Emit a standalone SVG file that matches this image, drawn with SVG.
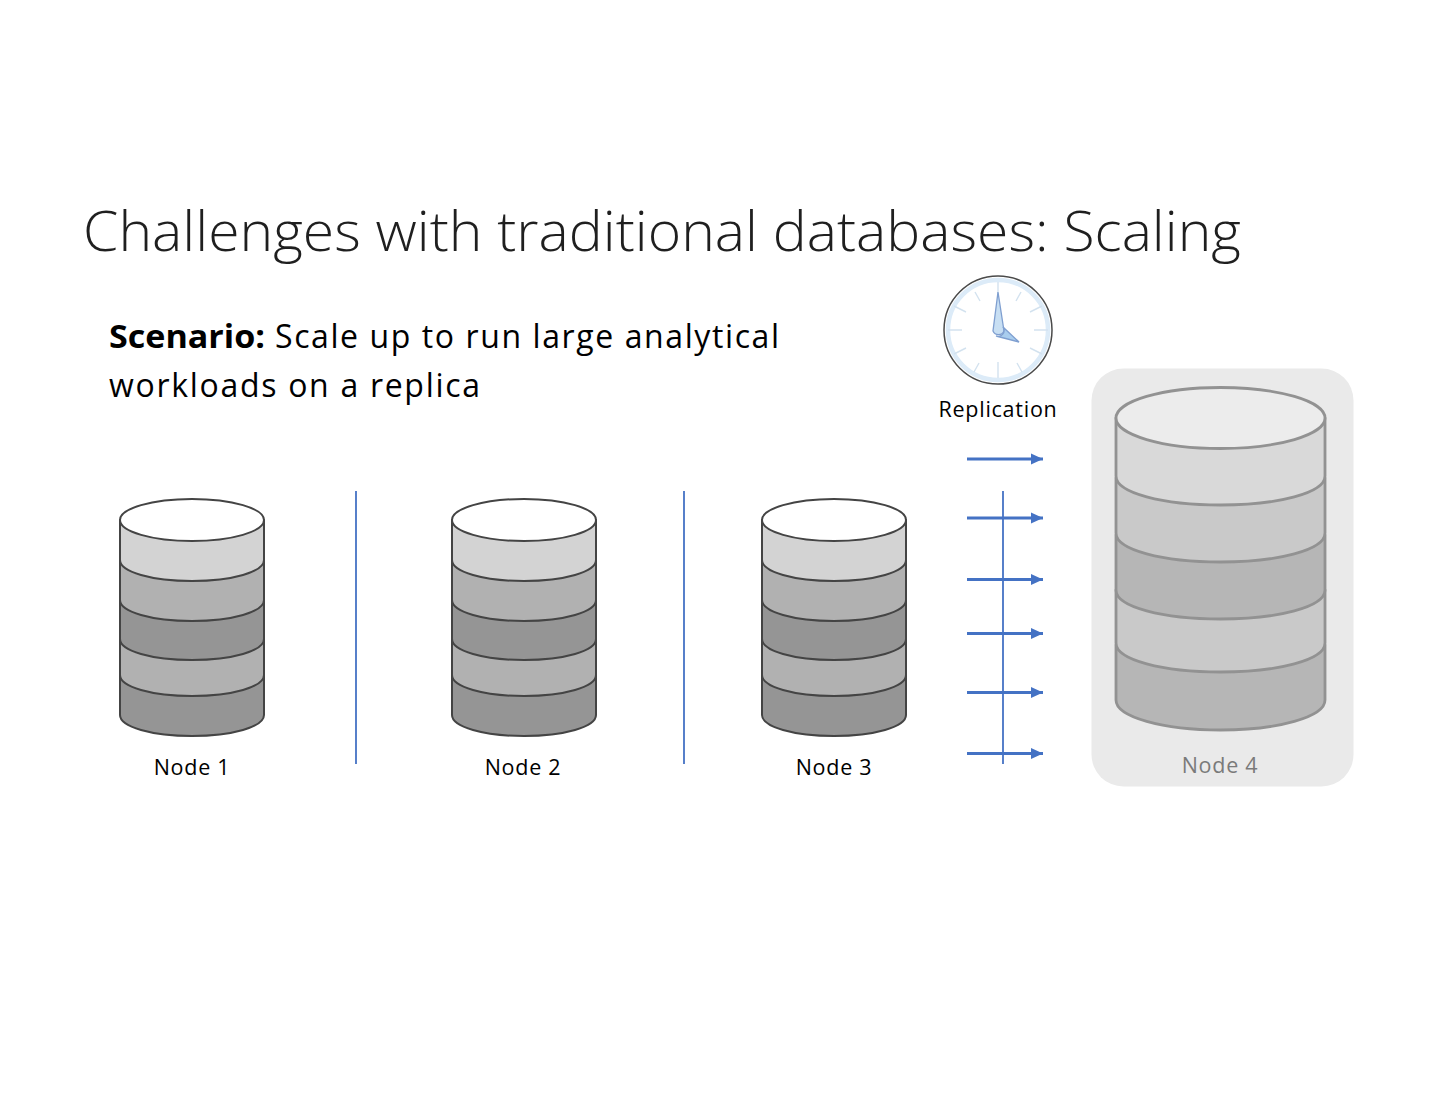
<svg xmlns="http://www.w3.org/2000/svg" width="1440" height="1113" viewBox="0 0 1440 1113">
<style>
.sans{font-family:"Open Sans","Noto Sans","Liberation Sans",sans-serif;fill:#000}
.lab{font-size:21.500px;text-anchor:middle;letter-spacing:.75px}
.body{font-size:32px}
.b{stroke:#444;stroke-width:2;stroke-linejoin:round}
.c1{fill:#d3d3d3}.c2{fill:#b1b1b1}.c3{fill:#959595}
.v{stroke:#4472c4;stroke-width:1.8;fill:none}
.a{stroke:#4472c4;stroke-width:3;fill:none;marker-end:url(#ah)}
.tick{stroke:#d3e2ef;stroke-width:1.4;fill:none}
</style>
<defs>
<marker id="ah" markerUnits="userSpaceOnUse" markerWidth="14" markerHeight="14" refX="12" refY="7" orient="auto"><path d="M0 1.500L12 7L0 12.500Z" fill="#4472c4"/></marker>
<g id="cyl">
<path class="b c3" d="M0 640V695C0 707 32 716 72 716S144 707 144 695V640Z"/>
<path class="b c2" d="M0 600V655C0 667 32 676 72 676S144 667 144 655V600Z"/>
<path class="b c3" d="M0 560V619C0 631 32 640 72 640S144 631 144 619V560Z"/>
<path class="b c2" d="M0 520V580C0 592 32 601 72 601S144 592 144 580V520Z"/>
<path class="b c1" d="M0 500V540C0 552 32 561 72 561S144 552 144 540V500Z"/>
<ellipse class="b" cx="72" cy="500" rx="72" ry="21" fill="#fff"/>
</g>
</defs>
<text x="83" y="251" font-size="56" font-weight="300" class="sans" style="fill:#1f1f1f" textLength="1158" lengthAdjust="spacingAndGlyphs">Challenges with traditional databases: Scaling</text>
<text class="sans body" font-weight="700" x="109" y="348" textLength="156" lengthAdjust="spacingAndGlyphs">Scenario:</text>
<text class="sans body" x="275" y="348" textLength="504" lengthAdjust="spacing">Scale up to run large analytical</text>
<text class="sans body" x="109" y="397" textLength="371" lengthAdjust="spacing">workloads on a replica</text>

<g id="clock">
<circle cx="998" cy="330" r="54" fill="#fff" stroke="#4a4a4a" stroke-width="1.5"/>
<circle cx="998" cy="330" r="50" fill="none" stroke="#dcebf8" stroke-width="4.500"/>
<path class="tick" d="M998 282V298M1021 292L1016 301M1042 306L1030 312M1048 330H1034M1042 354L1030 348M1022 372L1017 363M998 378V362M974 372L979 363M954 354L966 348M948 330H962M954 306L966 312M975 292L980 301"/>
<path d="M998 292L1004 331A6 6 0 0 1 993 331Z" fill="#c8dff3" stroke="#7f9fd0" stroke-width="1.3"/>
<path d="M1003 327L1019 342L996 336A6 6 0 0 0 1003 327Z" fill="#a9cdee" stroke="#7f9fd0" stroke-width="1.3"/>
</g>
<text class="sans lab" id="repl" x="998" y="417">Replication</text>

<g id="connectors">
<path class="v" d="M356 491V764"/>
<path class="v" d="M684 491V764"/>
<path class="v" d="M1003 491V764"/>
<path class="a" d="M967 459H1043"/>
<path class="a" d="M967 518H1043"/>
<path class="a" d="M967 579.500H1043"/>
<path class="a" d="M967 633.500H1043"/>
<path class="a" d="M967 692.500H1043"/>
<path class="a" d="M967 753.500H1043"/>
</g>

<g id="node1"><use href="#cyl" x="120" y="20"/><text class="sans lab" x="192" y="775">Node 1</text></g>
<g id="node2"><use href="#cyl" x="452" y="20"/><text class="sans lab" x="523" y="775">Node 2</text></g>
<g id="node3"><use href="#cyl" x="762" y="20"/><text class="sans lab" x="834" y="775">Node 3</text></g>

<g id="node4">
<rect x="1091.500" y="368.500" width="262" height="418" rx="32" fill="#eaeaea"/>
<g stroke="#929292" stroke-width="2.800" stroke-linejoin="round">
<path fill="#b6b6b6" d="M1116 645V700C1116 717 1163 730 1220.500 730S1325 717 1325 700V645Z"/>
<path fill="#c9c9c9" d="M1116 590V643C1116 660 1163 672 1220.500 672S1325 660 1325 643V590Z"/>
<path fill="#b6b6b6" d="M1116 535V590C1116 607 1163 619 1220.500 619S1325 607 1325 590V535Z"/>
<path fill="#c9c9c9" d="M1116 478V533C1116 550 1163 562 1220.500 562S1325 550 1325 533V478Z"/>
<path fill="#d9d9d9" d="M1116 418V476C1116 493 1163 505 1220.500 505S1325 493 1325 476V418Z"/>
<ellipse cx="1220.500" cy="418" rx="104.500" ry="30.500" fill="#ececec"/>
</g>
<text class="sans lab" x="1220" y="773" style="fill:#7a7a7a">Node 4</text>
</g>
</svg>
